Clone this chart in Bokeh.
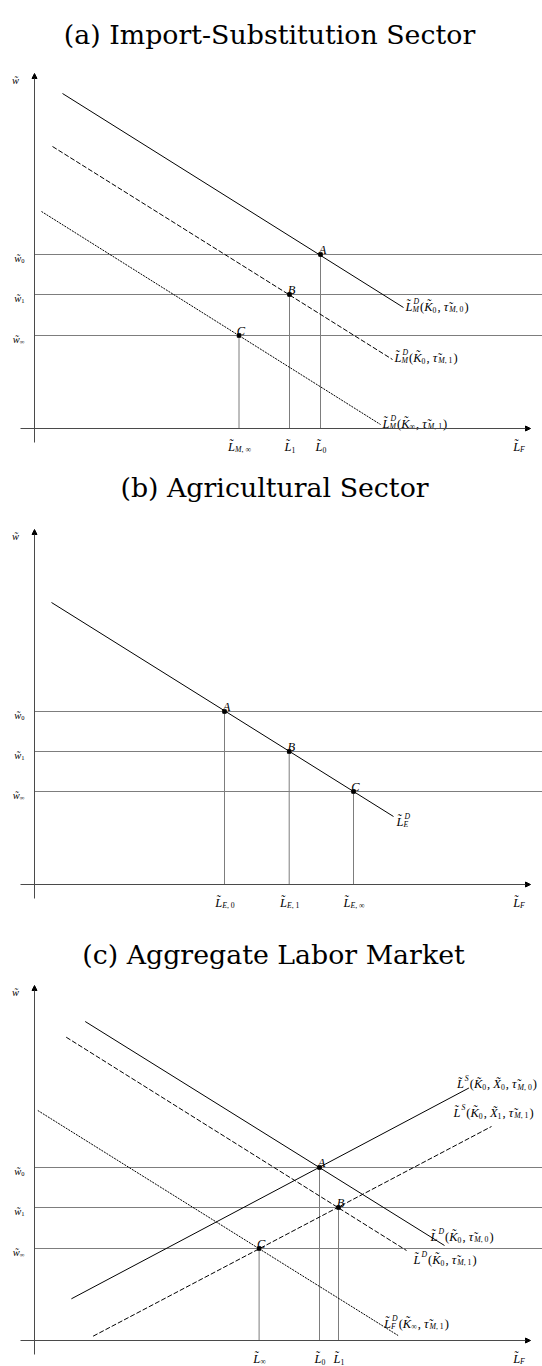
from bokeh.plotting import figure
from bokeh.layouts import column
from bokeh.models import Range1d, Arrow, NormalHead, ColumnDataSource
from bokeh.core.properties import value
from bokeh.embed import file_html
from bokeh.resources import INLINE

# ---------------------------------------------------------------- layout
PAGE_W = 542
ORIGIN_X = 34      # pixels from the left edge to the wage axis
ORIGIN_Y = 428     # pixels from the panel top to the labour axis
PANEL_H = [456, 456, 454]

# ---------------------------------------------------------------- data
# (a) Import-substitution sector
A_WAGES = [174, 134, 93]                 # w0, w1, w_inf
A_LABOR = [286, 255, 204.5]              # L0, L1, L_M,inf
A_CURVE_X0 = [28, 18, 7]
A_CURVE_Y0 = [335, 282, 217]
A_CURVE_X1 = [369, 358, 346]
A_CURVE_Y1 = [121, 69, 4]
A_CURVE_LABELS = ["L~^D_M(K~_0, τ~_{M, 0})",
                  "L~^D_M(K~_0, τ~_{M, 1})",
                  "L~^D_M(K~_∞, τ~_{M, 1})"]
A_LABOR_LABELS = ["L~_0", "L~_1", "L~_{M, ∞}"]

# (b) Agricultural sector
B_WAGES = [173, 133, 93]
B_LABOR = [190, 254.7, 319]
B_CURVE_X0 = [17]
B_CURVE_Y0 = [282]
B_CURVE_X1 = [359]
B_CURVE_Y1 = [68]
B_CURVE_LABELS = ["L~^D_E"]
B_LABOR_LABELS = ["L~_{E, 0}", "L~_{E, 1}", "L~_{E, ∞}"]

# (c) Aggregate labour market: three demand curves, two supply curves
C_WAGES = [173, 133, 92]
C_LABOR = [285, 304, 224.6]
C_CURVE_X0 = [50.7, 31.7, 3.3, 36.9, 58.6]
C_CURVE_Y0 = [319, 303.3, 230, 41.7, 4.3]
C_CURVE_X1 = [410, 372, 363.6, 434.4, 457]
C_CURVE_Y1 = [95, 90, 5, 252.5, 214]
C_CURVE_LABELS = ["L~^D(K~_0, τ~_{M, 0})",
                  "L~^D(K~_0, τ~_{M, 1})",
                  "L~^D_F(K~_∞, τ~_{M, 1})",
                  "L~^S(K~_0, X~_0, τ~_{M, 0})",
                  "L~^S(K~_0, X~_1, τ~_{M, 1})"]
C_LABOR_LABELS = ["L~_0", "L~_1", "L~_∞"]

WAGE_LABELS = ["w~_0", "w~_1", "w~_∞"]
POINT_NAMES = ["A", "B", "C"]

# ---------------------------------------------------------------- text helper
# advance widths (em) of Liberation Serif, italic letters / upright symbols
IT_W = {"A": .611, "B": .611, "C": .667, "D": .722, "E": .611, "F": .611,
        "K": .667, "L": .556, "M": .833, "S": .5, "X": .611, "w": .667, "τ": .44}
UP_W = {"0": .5, "1": .5, "∞": .713, ",": .25, " ": .25, "(": .333, ")": .333}


def parse(spec):
    """Split 'L~^D_M(K~_0)' into runs of (text, level): 0 base, 1 sup, -1 sub."""
    runs, i, n = [], 0, len(spec)
    while i < n:
        c = spec[i]
        if c in "^_":
            lvl = 1 if c == "^" else -1
            if spec[i + 1] == "{":
                j = spec.index("}", i + 1)
                body, i = spec[i + 2:j], j + 1
            else:
                body, i = spec[i + 1], i + 2
            runs.append((body, lvl))
        else:
            j = i
            while j < n and spec[j] not in "^_":
                j += 1
            runs.append((spec[i:j], 0))
            i = j
    return runs


def chunks(body):
    """Group characters into italic / upright pieces; '~' puts a tilde on the previous one."""
    out = []
    for ch in body:
        if ch == "~":
            t, it, w = out[-1]
            out[-1] = (t + "\u0303", it, w)
            continue
        it = ch in IT_W
        w = IT_W.get(ch, UP_W.get(ch, .5))
        if out and out[-1][1] == it:
            t, _, w0 = out[-1]
            out[-1] = (t + ch, it, w0 + w)
        else:
            out.append((ch, it, w))
    return out


def layout_label(spec, size, ratio=0.62, gap=1.0):
    runs = parse(spec)
    pieces, x, k = [], 0.0, 0
    while k < len(runs):
        body, lvl = runs[k]
        if lvl == 0:
            for t, it, w in chunks(body):
                pieces.append((x, 0.0, t, size, it))
                x += w * size
            k += 1
            continue
        group = [runs[k]]
        if lvl == 1 and k + 1 < len(runs) and runs[k + 1][1] == -1:
            group.append(runs[k + 1])
        s = round(size * ratio, 2)
        end = x
        for b, lv in group:
            cx = x + (0.08 * size if lv == 1 else 0.0)
            dy = 0.42 * size if lv == 1 else -0.24 * size
            for t, it, w in chunks(b):
                pieces.append((cx, dy, t, s, it))
                cx += w * s
            end = max(end, cx)
        x = end + gap
        k += len(group)
    return pieces, x


def put_labels(fig, items, size, align="left", color="black"):
    groups = {}
    for spec, x0, y0 in items:
        pieces, width = layout_label(spec, size)
        shift = {"left": 0.0, "center": -width / 2, "right": -width}[align]
        for dx, dy, t, s, it in pieces:
            g = groups.setdefault((s, it), {"x": [], "y": [], "t": []})
            g["x"].append(x0 + shift + dx)
            g["y"].append(y0 + dy)
            g["t"].append(t)
    for (s, it), g in groups.items():
        fig.text(x="x", y="y", text="t", source=ColumnDataSource(g),
                 text_font=value("Liberation Serif"), text_font_size=f"{s}px",
                 text_font_style="italic" if it else "normal",
                 text_baseline="alphabetic", text_align="left", text_color=color)


# ---------------------------------------------------------------- panels
GUIDE = "#7d7d7d"
AXIS = "#4a4a4a"
DASHES = {"solid": "solid", "dashed": "5 2", "dotted": "2 1"}


def panel(height, title, title_x, title_base, wages, labor, cx0, cy0, cx1, cy1,
          styles, curve_labels, label_offsets, labor_labels):
    x_right = PAGE_W - ORIGIN_X
    p = figure(width=PAGE_W, height=height, output_backend="svg",
               toolbar_location=None, x_axis_location=None, y_axis_location=None,
               x_range=Range1d(-ORIGIN_X, x_right),
               y_range=Range1d(ORIGIN_Y - height, ORIGIN_Y),
               min_border=0, outline_line_color=None,
               background_fill_color="white", border_fill_color="white")
    p.xgrid.visible = False
    p.ygrid.visible = False

    # panel heading
    p.text(x=[title_x - ORIGIN_X], y=[title_base], text=[title],
           text_font=value("DejaVu Serif"), text_font_size="26.8px",
           text_align="center", text_baseline="alphabetic", text_color="black")

    # wage levels and the employment they imply
    n = len(wages)
    p.segment(x0=[0] * n, y0=wages, x1=[x_right] * n, y1=wages,
              line_color=GUIDE, line_width=1)
    p.segment(x0=labor, y0=[0] * n, x1=labor, y1=wages,
              line_color=GUIDE, line_width=1)

    # axes with arrow heads
    p.add_layout(Arrow(end=NormalHead(size=5, fill_color="black", line_color="black"),
                       x_start=0, y_start=-14, x_end=0, y_end=355,
                       line_color=AXIS, line_width=1))
    p.add_layout(Arrow(end=NormalHead(size=5, fill_color="black", line_color="black"),
                       x_start=-14, y_start=0, x_end=496, y_end=0,
                       line_color=AXIS, line_width=1))

    # demand / supply schedules
    for i, st in enumerate(styles):
        p.line(x=[cx0[i], cx1[i]], y=[cy0[i], cy1[i]], line_color="black",
               line_width=1, line_dash=DASHES[st])

    # equilibrium points
    p.scatter(x=labor, y=wages, marker="square", size=3.5,
              fill_color="black", line_color="black")

    # text
    put_labels(p, [(nm, labor[i] + 2, wages[i] + 5) for i, nm in enumerate(POINT_NAMES)],
               12.5, align="center")
    put_labels(p, [(WAGE_LABELS[i], -9, wages[i] - 3.5) for i in range(n)],
               10.5, align="right")
    put_labels(p, [("w~", -19, 348)], 10.5, align="center")
    put_labels(p, [(labor_labels[i], labor[i] + 1, -18) for i in range(n)] +
               [("L~_F", 485, -18)], 12.5, align="center")
    put_labels(p, [(lab, cx1[i] + label_offsets[i][0], cy1[i] + label_offsets[i][1])
                   for i, lab in enumerate(curve_labels)], 12.5)
    return p


pa = panel(PANEL_H[0], "(a) Import-Substitution Sector", 269, 394,
           A_WAGES, A_LABOR, A_CURVE_X0, A_CURVE_Y0, A_CURVE_X1, A_CURVE_Y1,
           ["solid", "dashed", "dotted"], A_CURVE_LABELS,
           [(2, 1), (2, 2), (2, 1)], A_LABOR_LABELS)

pb = panel(PANEL_H[1], "(b) Agricultural Sector", 274, 397.5,
           B_WAGES, B_LABOR, B_CURVE_X0, B_CURVE_Y0, B_CURVE_X1, B_CURVE_Y1,
           ["solid"], B_CURVE_LABELS, [(3, -5)], B_LABOR_LABELS)

pc = panel(PANEL_H[2], "(c) Aggregate Labor Market", 273, 386.5,
           C_WAGES, C_LABOR, C_CURVE_X0, C_CURVE_Y0, C_CURVE_X1, C_CURVE_Y1,
           ["solid", "dashed", "dotted", "solid", "dashed"], C_CURVE_LABELS,
           [(-14, 9), (7, -9), (-14, 12), (-12, 4), (-38, 14)], C_LABOR_LABELS)

page = column(pa, pb, pc, spacing=0)
open("out.html", "w").write(file_html(page, INLINE))
